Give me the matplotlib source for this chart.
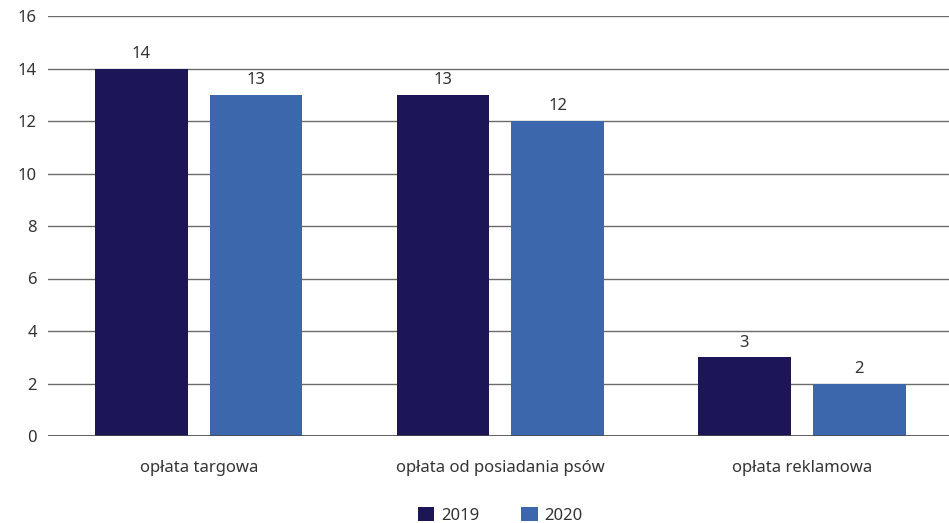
import matplotlib
matplotlib.use("Agg")
import matplotlib.pyplot as plt
import numpy as np

categories = ["opłata targowa", "opłata od posiadania psów", "opłata reklamowa"]
years = ["2019", "2020"]
values_2019 = [14, 13, 3]
values_2020 = [13, 12, 2]
colors = ["#1c1657", "#3c67ac"]

plt.rcParams['font.family'] = ['Noto Sans', 'DejaVu Sans']
fig = plt.figure(figsize=(9.49, 5.23), dpi=100)
ax = fig.add_axes([48/949, 87/523, 901/949, 420/523])

x = np.arange(len(categories))
w = 0.308
off = 0.19
text_c = "#333333"
fs = 12
for vals, o, c, lab in [(values_2019, -off, colors[0], years[0]), (values_2020, off, colors[1], years[1])]:
    bars = ax.bar(x + o, vals, width=w, color=c, label=lab, zorder=3)
    for b, v in zip(bars, vals):
        ax.text(b.get_x() + b.get_width()/2, v + 0.25, str(v), ha='center', va='bottom',
                fontsize=fs, color=text_c)

ax.set_xlim(-0.5, 2.488)
ax.set_ylim(0, 16)
ax.set_yticks(range(0, 17, 2))
ax.yaxis.grid(True, color="#6b6b6b", linewidth=1.0, zorder=0)
ax.set_axisbelow(True)
for s in ax.spines.values():
    s.set_visible(False)
ax.axhline(0, color="#4a4a4a", linewidth=1.2, zorder=4)
ax.tick_params(axis='both', length=0, labelsize=fs, colors=text_c)
ax.tick_params(axis='y', pad=8)
ax.tick_params(axis='x', pad=17)
ax.set_xticks(x)
ax.set_xticklabels(categories)

fig.legend(loc='lower center', bbox_to_anchor=(0.527, -0.03), ncol=2, frameon=False,
           fontsize=fs, handlelength=1.0, handleheight=1.0, columnspacing=2.5,
           handletextpad=0.4, labelcolor=text_c)

fig.savefig("out.png", dpi=100)
